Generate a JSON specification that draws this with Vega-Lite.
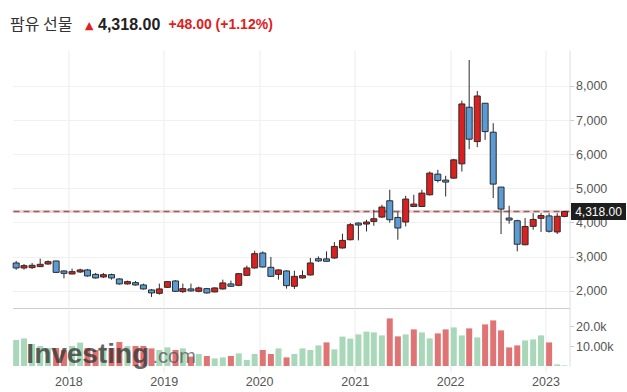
{
  "$schema": "https://vega.github.io/schema/vega-lite/v6.json",
  "background": "white",
  "padding": {"left": 9.5, "top": 16, "right": 2, "bottom": 2},
  "bounds": "flush",
  "spacing": 0,
  "title": {
    "text": "팜유 선물",
    "anchor": "start", "dx": -1, "offset": -28.8, "baseline": "alphabetic",
    "font": "Noto Sans CJK KR", "fontSize": 16, "fontWeight": "normal", "color": "#333333"
  },
  "datasets": {
    "c": [
      {"d":"2017-06-15","o":2810,"h":2870,"l":2610,"c":2664,"v":13000,"vd":"u"},
      {"d":"2017-07-15","o":2664,"h":2781,"l":2614,"c":2732,"v":13800,"vd":"u"},
      {"d":"2017-08-15","o":2674,"h":2810,"l":2635,"c":2742,"v":11000,"vd":"u"},
      {"d":"2017-09-15","o":2703,"h":2936,"l":2693,"c":2771,"v":10000,"vd":"u"},
      {"d":"2017-10-15","o":2781,"h":2887,"l":2752,"c":2848,"v":9000,"vd":"u"},
      {"d":"2017-11-15","o":2869,"h":2875,"l":2517,"c":2535,"v":9000,"vd":"d"},
      {"d":"2017-12-15","o":2576,"h":2594,"l":2360,"c":2506,"v":8000,"vd":"d"},
      {"d":"2018-01-15","o":2488,"h":2644,"l":2477,"c":2556,"v":10000,"vd":"u"},
      {"d":"2018-02-15","o":2547,"h":2644,"l":2518,"c":2606,"v":11700,"vd":"u"},
      {"d":"2018-03-15","o":2606,"h":2635,"l":2409,"c":2430,"v":9000,"vd":"d"},
      {"d":"2018-04-15","o":2477,"h":2518,"l":2351,"c":2371,"v":8000,"vd":"d"},
      {"d":"2018-05-15","o":2400,"h":2518,"l":2371,"c":2468,"v":9000,"vd":"u"},
      {"d":"2018-06-15","o":2468,"h":2497,"l":2322,"c":2371,"v":9000,"vd":"d"},
      {"d":"2018-07-15","o":2342,"h":2360,"l":2175,"c":2196,"v":12000,"vd":"d"},
      {"d":"2018-08-15","o":2196,"h":2292,"l":2175,"c":2263,"v":10000,"vd":"u"},
      {"d":"2018-09-15","o":2234,"h":2283,"l":2146,"c":2166,"v":10000,"vd":"d"},
      {"d":"2018-10-15","o":2166,"h":2205,"l":2029,"c":2049,"v":10000,"vd":"d"},
      {"d":"2018-11-15","o":2020,"h":2049,"l":1815,"c":1932,"v":8800,"vd":"d"},
      {"d":"2018-12-15","o":1920,"h":2205,"l":1883,"c":2049,"v":8000,"vd":"u"},
      {"d":"2019-01-15","o":2096,"h":2273,"l":2078,"c":2263,"v":9300,"vd":"u"},
      {"d":"2019-02-15","o":2283,"h":2302,"l":1961,"c":1979,"v":8000,"vd":"d"},
      {"d":"2019-03-15","o":1970,"h":2205,"l":1932,"c":2058,"v":8800,"vd":"u"},
      {"d":"2019-04-15","o":2049,"h":2205,"l":1970,"c":1991,"v":4700,"vd":"d"},
      {"d":"2019-05-15","o":1979,"h":2117,"l":1950,"c":2078,"v":6000,"vd":"u"},
      {"d":"2019-06-15","o":2058,"h":2078,"l":1912,"c":1932,"v":5000,"vd":"d"},
      {"d":"2019-07-15","o":1961,"h":2096,"l":1950,"c":2078,"v":3800,"vd":"u"},
      {"d":"2019-08-15","o":2049,"h":2322,"l":2029,"c":2225,"v":4300,"vd":"u"},
      {"d":"2019-09-15","o":2196,"h":2292,"l":2108,"c":2127,"v":5000,"vd":"d"},
      {"d":"2019-10-15","o":2155,"h":2518,"l":2127,"c":2497,"v":6300,"vd":"u"},
      {"d":"2019-11-15","o":2448,"h":2732,"l":2430,"c":2664,"v":3000,"vd":"u"},
      {"d":"2019-12-15","o":2664,"h":3170,"l":2644,"c":3083,"v":6000,"vd":"u"},
      {"d":"2020-01-15","o":3103,"h":3150,"l":2673,"c":2693,"v":8000,"vd":"d"},
      {"d":"2020-02-15","o":2683,"h":2986,"l":2400,"c":2418,"v":6000,"vd":"d"},
      {"d":"2020-03-15","o":2477,"h":2625,"l":2322,"c":2606,"v":8800,"vd":"u"},
      {"d":"2020-04-15","o":2576,"h":2600,"l":2058,"c":2146,"v":4300,"vd":"d"},
      {"d":"2020-05-15","o":2127,"h":2585,"l":2049,"c":2418,"v":6000,"vd":"u"},
      {"d":"2020-06-15","o":2371,"h":2594,"l":2351,"c":2439,"v":8800,"vd":"u"},
      {"d":"2020-07-15","o":2459,"h":2957,"l":2439,"c":2810,"v":8000,"vd":"u"},
      {"d":"2020-08-15","o":2935,"h":3004,"l":2840,"c":2870,"v":10300,"vd":"u"},
      {"d":"2020-09-15","o":2930,"h":3150,"l":2840,"c":2860,"v":11800,"vd":"d"},
      {"d":"2020-10-15","o":2957,"h":3425,"l":2928,"c":3296,"v":8300,"vd":"u"},
      {"d":"2020-11-15","o":3250,"h":3668,"l":3229,"c":3472,"v":14700,"vd":"u"},
      {"d":"2020-12-15","o":3492,"h":3981,"l":3472,"c":3932,"v":13700,"vd":"u"},
      {"d":"2021-01-15","o":3981,"h":4000,"l":3472,"c":3923,"v":15800,"vd":"u"},
      {"d":"2021-02-15","o":3952,"h":4078,"l":3735,"c":4011,"v":17200,"vd":"u"},
      {"d":"2021-03-15","o":4028,"h":4370,"l":3902,"c":4107,"v":16800,"vd":"u"},
      {"d":"2021-04-15","o":4157,"h":4517,"l":4128,"c":4450,"v":15300,"vd":"u"},
      {"d":"2021-05-15","o":4634,"h":4956,"l":3990,"c":4078,"v":23800,"vd":"d"},
      {"d":"2021-06-15","o":4145,"h":4303,"l":3492,"c":3835,"v":14800,"vd":"d"},
      {"d":"2021-07-15","o":4011,"h":4780,"l":3882,"c":4684,"v":15800,"vd":"u"},
      {"d":"2021-08-15","o":4467,"h":4810,"l":4450,"c":4537,"v":18300,"vd":"d"},
      {"d":"2021-09-15","o":4467,"h":4956,"l":4450,"c":4859,"v":16800,"vd":"u"},
      {"d":"2021-10-15","o":4810,"h":5492,"l":4789,"c":5445,"v":13800,"vd":"u"},
      {"d":"2021-11-15","o":5415,"h":5541,"l":5170,"c":5228,"v":16300,"vd":"d"},
      {"d":"2021-12-15","o":5240,"h":5366,"l":4760,"c":5182,"v":18300,"vd":"d"},
      {"d":"2022-01-15","o":5298,"h":5863,"l":5278,"c":5834,"v":19300,"vd":"u"},
      {"d":"2022-02-15","o":5717,"h":7570,"l":5492,"c":7473,"v":15300,"vd":"u"},
      {"d":"2022-03-15","o":7377,"h":8761,"l":6147,"c":6440,"v":18800,"vd":"d"},
      {"d":"2022-04-15","o":6370,"h":7854,"l":6206,"c":7707,"v":14300,"vd":"u"},
      {"d":"2022-05-15","o":7494,"h":7500,"l":6419,"c":6662,"v":20800,"vd":"d"},
      {"d":"2022-06-15","o":6645,"h":6908,"l":4713,"c":5123,"v":22800,"vd":"d"},
      {"d":"2022-07-15","o":5035,"h":5040,"l":3660,"c":4391,"v":17800,"vd":"d"},
      {"d":"2022-08-15","o":4128,"h":4488,"l":3961,"c":4069,"v":9300,"vd":"d"},
      {"d":"2022-09-15","o":4049,"h":4078,"l":3150,"c":3360,"v":10300,"vd":"d"},
      {"d":"2022-10-15","o":3345,"h":4128,"l":3330,"c":3880,"v":12800,"vd":"u"},
      {"d":"2022-11-15","o":3885,"h":4271,"l":3785,"c":4087,"v":13300,"vd":"u"},
      {"d":"2022-12-15","o":4120,"h":4271,"l":3720,"c":4200,"v":15300,"vd":"u"},
      {"d":"2023-01-15","o":4190,"h":4271,"l":3700,"c":3740,"v":11800,"vd":"d"},
      {"d":"2023-02-15","o":3720,"h":4271,"l":3660,"c":4180,"v":800,"vd":"u"},
      {"d":"2023-03-15","o":4175,"h":4335,"l":4150,"c":4318,"v":300,"vd":"u"}
    ],
    "last": [{"p": 4318, "t": "4,318.00"}]
  },
  "vconcat": [
    {
      "width": 557,
      "height": 258,
      "title": {"text": "4,318.00", "anchor": "start", "dx": 87, "offset": -27, "baseline": "alphabetic",
        "font": "Liberation Sans", "fontSize": 16, "fontWeight": "bold", "color": "#222222"},
      "layer": [
        {
          "data": {"name": "last"},
          "mark": {"type": "rule", "color": "#fbd0d0", "strokeWidth": 3},
          "encoding": {
            "y": {"field": "p", "type": "quantitative",
              "scale": {"domain": [1490, 9055], "nice": false, "zero": false},
              "axis": {"orient": "right", "title": null, "values": [2000, 3000, 4000, 5000, 6000, 7000, 8000], "format": ",.0f",
                "grid": true, "gridColor": "#f0f0f0", "domain": true, "domainColor": "#dddddd",
                "ticks": true, "tickSize": 4, "tickColor": "#cccccc", "labelPadding": 2,
                "labelFont": "Liberation Sans", "labelFontSize": 12.5, "labelColor": "#555555"}}
          }
        },
        {
          "data": {"name": "last"},
          "mark": {"type": "rule", "color": "#7d6a6a", "strokeWidth": 1.5, "strokeDash": [6, 4]},
          "encoding": {"y": {"field": "p", "type": "quantitative"}}
        },
        {
          "data": {"name": "c"},
          "mark": {"type": "rule", "color": "#2b2b2b", "strokeWidth": 1},
          "encoding": {
            "x": {"field": "d", "type": "temporal",
              "scale": {"type": "utc", "nice": false, "padding": 0, "domain": [{"year": 2017, "month": 6, "date": 1, "utc": true}, {"year": 2023, "month": 4, "date": 3, "utc": true}]},
              "axis": {"title": "▲", "titleColor": "#e0201c", "titleFont": "DejaVu Sans", "titleFontSize": 11,
                "titleX": 72, "titleY": -280, "titleAlign": "left", "titleBaseline": "alphabetic",
                "labels": false, "ticks": false, "domain": true, "domainColor": "#cccccc",
                "grid": true, "gridColor": "#ececec", "tickCount": {"interval": "year", "step": 1}}},
            "y": {"field": "l", "type": "quantitative"},
            "y2": {"field": "h"}
          }
        },
        {
          "data": {"name": "c"},
          "mark": {"type": "bar", "size": 6, "stroke": "#2b2b2b", "strokeWidth": 1},
          "encoding": {
            "x": {"field": "d", "type": "temporal",
              "scale": {"type": "utc", "nice": false, "padding": 0, "domain": [{"year": 2017, "month": 6, "date": 1, "utc": true}, {"year": 2023, "month": 4, "date": 3, "utc": true}]}},
            "y": {"field": "o", "type": "quantitative"},
            "y2": {"field": "c"},
            "fill": {"condition": {"test": "datum.c >= datum.o", "value": "#dc1f1f"}, "value": "#5b9bd5"}
          }
        },
        {
          "data": {"name": "last"},
          "mark": {"type": "point", "shape": "M-1,-0.31L1,-0.31L1,0.31L-1,0.31Z", "size": 3025, "filled": true,
            "color": "#1e1e1e", "opacity": 1, "xOffset": 29},
          "encoding": {
            "x": {"datum": {"year": 2023, "month": 4, "date": 3, "utc": true}, "type": "temporal"},
            "y": {"field": "p", "type": "quantitative"}
          }
        },
        {
          "data": {"name": "last"},
          "mark": {"type": "text", "dx": 29, "align": "center", "baseline": "middle", "color": "#ffffff",
            "font": "Liberation Sans", "fontSize": 12},
          "encoding": {
            "x": {"datum": {"year": 2023, "month": 4, "date": 3, "utc": true}, "type": "temporal"},
            "y": {"field": "p", "type": "quantitative"},
            "text": {"field": "t"}
          }
        }
      ]
    },
    {
      "width": 557,
      "height": 58,
      "title": {"text": "+48.00 (+1.12%)", "anchor": "start", "dx": 156, "offset": 265.5, "baseline": "alphabetic",
        "font": "Liberation Sans", "fontSize": 14, "fontWeight": "bold", "color": "#e0201c"},
      "layer": [
        {
          "data": {"name": "c"},
          "mark": {"type": "bar", "size": 6},
          "encoding": {
            "x": {"field": "d", "type": "temporal",
              "scale": {"type": "utc", "nice": false, "padding": 0, "domain": [{"year": 2017, "month": 6, "date": 1, "utc": true}, {"year": 2023, "month": 4, "date": 3, "utc": true}]},
              "axis": {"title": null, "format": "%Y", "tickCount": {"interval": "year", "step": 1}, "domain": false,
                "grid": true, "gridColor": "#ececec", "ticks": true, "tickSize": 6, "tickColor": "#e6e6e6",
                "labelPadding": 3, "labelFont": "Liberation Sans", "labelFontSize": 12.5, "labelColor": "#555555"}},
            "y": {"field": "v", "type": "quantitative",
              "scale": {"domain": [0, 29000], "nice": false},
              "axis": {"orient": "right", "title": null, "values": [10000, 20000],
                "labelExpr": "datum.value == 20000 ? '20.0k' : '10.00k'",
                "grid": false, "domain": true, "domainColor": "#dddddd", "ticks": true, "tickSize": 4, "tickColor": "#cccccc",
                "labelPadding": 2, "labelFont": "Liberation Sans", "labelFontSize": 12.5, "labelColor": "#555555"}},
            "color": {"field": "vd", "type": "nominal", "scale": {"domain": ["u", "d"], "range": ["#a8d8b9", "#e07373"]}, "legend": null}
          }
        },
        {
          "data": {"values": [{"t": "Investing"}]},
          "mark": {"type": "text", "font": "Liberation Sans", "fontWeight": "bold", "fontSize": 28, "align": "left",
            "baseline": "alphabetic", "color": "#333333", "opacity": 0.75},
          "encoding": {
            "x": {"datum": {"year": 2017, "month": 7, "date": 24, "utc": true}, "type": "temporal"},
            "y": {"datum": 1500, "type": "quantitative"},
            "text": {"field": "t"}
          }
        },
        {
          "data": {"values": [{"t": ".com"}]},
          "mark": {"type": "text", "font": "Liberation Sans", "fontSize": 20, "align": "left",
            "baseline": "alphabetic", "color": "#555555", "opacity": 0.75},
          "encoding": {
            "x": {"datum": {"year": 2018, "month": 11, "date": 19, "utc": true}, "type": "temporal"},
            "y": {"datum": 1500, "type": "quantitative"},
            "text": {"field": "t"}
          }
        }
      ]
    }
  ],
  "config": {"view": {"stroke": null}}
}
